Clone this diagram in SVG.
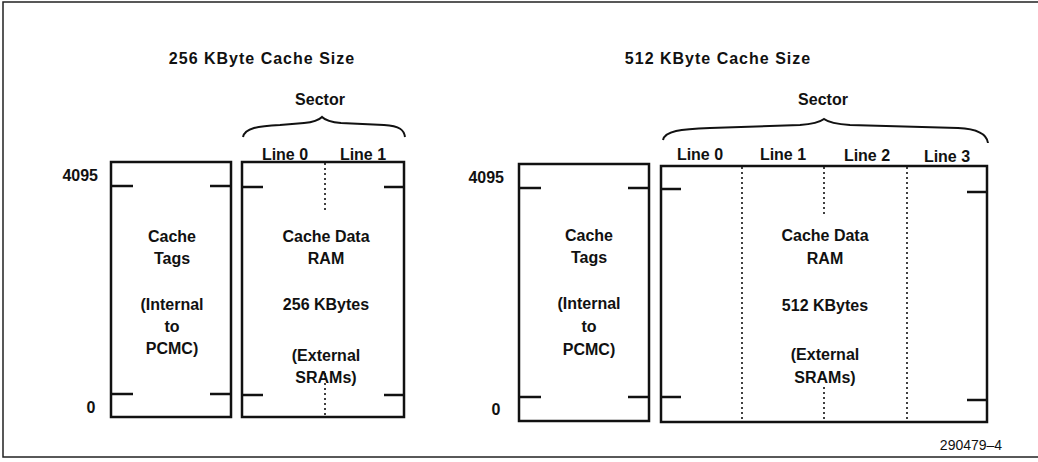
<svg xmlns="http://www.w3.org/2000/svg" width="1038" height="462" viewBox="0 0 1038 462">
<style>
.t{font-family:"Liberation Sans",Arial,sans-serif;font-weight:bold;font-size:16px;fill:#111;text-anchor:middle}
.h{font-size:16px;letter-spacing:1px}
.e{text-anchor:end}
.box{fill:none;stroke:#111;stroke-width:2.5}
.tick{stroke:#111;stroke-width:2.5}
.dot{stroke:#111;stroke-width:1.6;stroke-dasharray:2 3;fill:none}
.brace{fill:none;stroke:#111;stroke-width:2}
.n{font-family:"Liberation Sans",Arial,sans-serif;font-size:14px;fill:#111;text-anchor:middle}
</style>
<rect width="1038" height="462" fill="#fff"/>
<rect x="3" y="2" width="1045" height="455" fill="none" stroke="#222" stroke-width="1.5"/>

<g id="left-titles">
<text class="t h" x="262" y="64">256 KByte Cache Size</text>
<text class="t" x="320" y="105">Sector</text>
<text class="t e" x="98" y="181">4095</text>
<text class="t" x="91" y="413">0</text>
</g>

<g id="left-tags">
<rect class="box" x="111" y="162" width="120" height="255"/>
<line class="tick" x1="111" y1="186" x2="133" y2="186"/>
<line class="tick" x1="210" y1="186" x2="231" y2="186"/>
<line class="tick" x1="111" y1="394" x2="133" y2="394"/>
<line class="tick" x1="210" y1="394" x2="231" y2="394"/>
<text class="t" x="172" y="242">Cache</text>
<text class="t" x="172" y="264">Tags</text>
<text class="t" x="172" y="310">(Internal</text>
<text class="t" x="172" y="332">to</text>
<text class="t" x="172" y="354">PCMC)</text>
</g>

<g id="left-data">
<rect class="box" x="242" y="162" width="162" height="255"/>
<line class="tick" x1="242" y1="187" x2="263" y2="187"/>
<line class="tick" x1="384" y1="187" x2="404" y2="187"/>
<line class="tick" x1="242" y1="395" x2="263" y2="395"/>
<line class="tick" x1="384" y1="395" x2="404" y2="395"/>
<line class="dot" x1="325" y1="163" x2="325" y2="210"/>
<line class="dot" x1="325" y1="373" x2="325" y2="416"/>
<text class="t" x="285" y="160">Line 0</text>
<text class="t" x="363" y="160">Line 1</text>
<text class="t" x="326" y="242">Cache Data</text>
<text class="t" x="326" y="264">RAM</text>
<text class="t" x="326" y="310">256 KBytes</text>
<text class="t" x="326" y="361">(External</text>
<text class="t" x="326" y="383">SRAMs)</text>
</g>

<g id="right-titles">
<text class="t h" x="718" y="64">512 KByte Cache Size</text>
<text class="t" x="823" y="105">Sector</text>
<text class="t e" x="504" y="183">4095</text>
<text class="t" x="496" y="415">0</text>
</g>

<g id="right-tags">
<rect class="box" x="519" y="164" width="130" height="257"/>
<line class="tick" x1="519" y1="188" x2="541" y2="188"/>
<line class="tick" x1="628" y1="188" x2="649" y2="188"/>
<line class="tick" x1="519" y1="397" x2="541" y2="397"/>
<line class="tick" x1="628" y1="397" x2="649" y2="397"/>
<text class="t" x="589" y="241">Cache</text>
<text class="t" x="589" y="263">Tags</text>
<text class="t" x="589" y="309">(Internal</text>
<text class="t" x="589" y="332">to</text>
<text class="t" x="589" y="355">PCMC)</text>
</g>

<g id="right-data">
<rect class="box" x="661" y="166" width="326" height="256"/>
<line class="tick" x1="661" y1="189" x2="681" y2="189"/>
<line class="tick" x1="967" y1="192" x2="987" y2="192"/>
<line class="tick" x1="661" y1="397" x2="681" y2="397"/>
<line class="tick" x1="967" y1="400" x2="987" y2="400"/>
<line class="dot" x1="742" y1="167" x2="742" y2="421"/>
<line class="dot" x1="824" y1="167" x2="824" y2="215"/>
<line class="dot" x1="824" y1="387" x2="824" y2="421"/>
<line class="dot" x1="907" y1="167" x2="907" y2="421"/>
<text class="t" x="700" y="160">Line 0</text>
<text class="t" x="783" y="160">Line 1</text>
<text class="t" x="867" y="161">Line 2</text>
<text class="t" x="947" y="162">Line 3</text>
<text class="t" x="825" y="241">Cache Data</text>
<text class="t" x="825" y="264">RAM</text>
<text class="t" x="825" y="311">512 KBytes</text>
<text class="t" x="825" y="360">(External</text>
<text class="t" x="825" y="383">SRAMs)</text>
</g>

<g id="connectors">
<path class="brace" d="M243,137 C245,128 258,126 280,125 L304,123 C315,122 319,120 322,117 C325,120 330,122 341,123 L384,125 C400,126 404,130 405,137"/>
<path class="brace" d="M663,140 C665,131 680,129 710,128 L800,125 C814,124 820,122 824,119 C828,122 835,124 850,125 L958,128 C980,129 987,135 988,143"/>
</g>

<text class="n" x="971" y="450">290479–4</text>
</svg>
